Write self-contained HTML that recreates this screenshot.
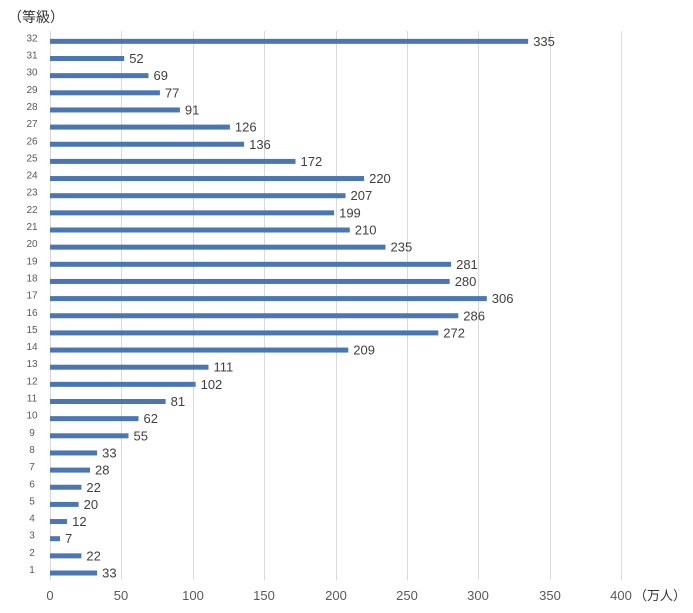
<!DOCTYPE html><html><head><meta charset="utf-8"><style>body{margin:0;background:#fff}svg{display:block}</style></head><body>
<svg width="693" height="613" xmlns="http://www.w3.org/2000/svg" font-family="Liberation Sans, Noto Sans CJK JP, sans-serif">
<defs><style>.c{font-size:10px;fill:#595959;text-anchor:middle}.v{font-size:13px;fill:#404040}.b{fill:#4a76b4}</style></defs>
<text x="8" y="22" font-size="14" fill="#333">（等級）</text>
<g stroke="#d9d9d9" stroke-width="1">
<line x1="50.5" y1="31" x2="50.5" y2="580"/><line x1="121.5" y1="31" x2="121.5" y2="580"/><line x1="193.5" y1="31" x2="193.5" y2="580"/><line x1="264.5" y1="31" x2="264.5" y2="580"/><line x1="336.5" y1="31" x2="336.5" y2="580"/><line x1="407.5" y1="31" x2="407.5" y2="580"/><line x1="478.5" y1="31" x2="478.5" y2="580"/><line x1="550.5" y1="31" x2="550.5" y2="580"/><line x1="621.5" y1="31" x2="621.5" y2="580"/>
</g>
<g font-size="13" fill="#595959" text-anchor="middle">
<text x="50" y="600">0</text><text x="121" y="600">50</text><text x="193" y="600">100</text><text x="264" y="600">150</text><text x="336" y="600">200</text><text x="407" y="600">250</text><text x="478" y="600">300</text><text x="550" y="600">350</text><text x="621" y="600">400</text>
</g>
<text x="634" y="600" font-size="13" fill="#333">（万人）</text>
<g transform="translate(0,573)"><text class="c" x="32" y="0">1</text><rect class="b" x="50" y="-2.5" width="47.1" height="5"/><text class="v" x="102.1" y="4.5">33</text></g>
<g transform="translate(0,555.85)"><text class="c" x="32" y="0">2</text><rect class="b" x="50" y="-2.5" width="31.4" height="5"/><text class="v" x="86.4" y="4.5">22</text></g>
<g transform="translate(0,538.7)"><text class="c" x="32" y="0">3</text><rect class="b" x="50" y="-2.5" width="10" height="5"/><text class="v" x="65" y="4.5">7</text></g>
<g transform="translate(0,521.55)"><text class="c" x="32" y="0">4</text><rect class="b" x="50" y="-2.5" width="17.1" height="5"/><text class="v" x="72.1" y="4.5">12</text></g>
<g transform="translate(0,504.4)"><text class="c" x="32" y="0">5</text><rect class="b" x="50" y="-2.5" width="28.6" height="5"/><text class="v" x="83.6" y="4.5">20</text></g>
<g transform="translate(0,487.25)"><text class="c" x="32" y="0">6</text><rect class="b" x="50" y="-2.5" width="31.4" height="5"/><text class="v" x="86.4" y="4.5">22</text></g>
<g transform="translate(0,470.1)"><text class="c" x="32" y="0">7</text><rect class="b" x="50" y="-2.5" width="40" height="5"/><text class="v" x="95" y="4.5">28</text></g>
<g transform="translate(0,452.95)"><text class="c" x="32" y="0">8</text><rect class="b" x="50" y="-2.5" width="47.1" height="5"/><text class="v" x="102.1" y="4.5">33</text></g>
<g transform="translate(0,435.8)"><text class="c" x="32" y="0">9</text><rect class="b" x="50" y="-2.5" width="78.5" height="5"/><text class="v" x="133.5" y="4.5">55</text></g>
<g transform="translate(0,418.65)"><text class="c" x="32" y="0">10</text><rect class="b" x="50" y="-2.5" width="88.5" height="5"/><text class="v" x="143.5" y="4.5">62</text></g>
<g transform="translate(0,401.5)"><text class="c" x="32" y="0">11</text><rect class="b" x="50" y="-2.5" width="115.6" height="5"/><text class="v" x="170.6" y="4.5">81</text></g>
<g transform="translate(0,384.35)"><text class="c" x="32" y="0">12</text><rect class="b" x="50" y="-2.5" width="145.6" height="5"/><text class="v" x="200.6" y="4.5">102</text></g>
<g transform="translate(0,367.2)"><text class="c" x="32" y="0">13</text><rect class="b" x="50" y="-2.5" width="158.5" height="5"/><text class="v" x="213.5" y="4.5">111</text></g>
<g transform="translate(0,350.05)"><text class="c" x="32" y="0">14</text><rect class="b" x="50" y="-2.5" width="298.3" height="5"/><text class="v" x="353.3" y="4.5">209</text></g>
<g transform="translate(0,332.9)"><text class="c" x="32" y="0">15</text><rect class="b" x="50" y="-2.5" width="388.3" height="5"/><text class="v" x="443.3" y="4.5">272</text></g>
<g transform="translate(0,315.75)"><text class="c" x="32" y="0">16</text><rect class="b" x="50" y="-2.5" width="408.3" height="5"/><text class="v" x="463.3" y="4.5">286</text></g>
<g transform="translate(0,298.6)"><text class="c" x="32" y="0">17</text><rect class="b" x="50" y="-2.5" width="436.8" height="5"/><text class="v" x="491.8" y="4.5">306</text></g>
<g transform="translate(0,281.45)"><text class="c" x="32" y="0">18</text><rect class="b" x="50" y="-2.5" width="399.7" height="5"/><text class="v" x="454.7" y="4.5">280</text></g>
<g transform="translate(0,264.3)"><text class="c" x="32" y="0">19</text><rect class="b" x="50" y="-2.5" width="401.1" height="5"/><text class="v" x="456.1" y="4.5">281</text></g>
<g transform="translate(0,247.15)"><text class="c" x="32" y="0">20</text><rect class="b" x="50" y="-2.5" width="335.5" height="5"/><text class="v" x="390.5" y="4.5">235</text></g>
<g transform="translate(0,230)"><text class="c" x="32" y="0">21</text><rect class="b" x="50" y="-2.5" width="299.8" height="5"/><text class="v" x="354.8" y="4.5">210</text></g>
<g transform="translate(0,212.85)"><text class="c" x="32" y="0">22</text><rect class="b" x="50" y="-2.5" width="284.1" height="5"/><text class="v" x="339.1" y="4.5">199</text></g>
<g transform="translate(0,195.7)"><text class="c" x="32" y="0">23</text><rect class="b" x="50" y="-2.5" width="295.5" height="5"/><text class="v" x="350.5" y="4.5">207</text></g>
<g transform="translate(0,178.55)"><text class="c" x="32" y="0">24</text><rect class="b" x="50" y="-2.5" width="314.1" height="5"/><text class="v" x="369.1" y="4.5">220</text></g>
<g transform="translate(0,161.4)"><text class="c" x="32" y="0">25</text><rect class="b" x="50" y="-2.5" width="245.5" height="5"/><text class="v" x="300.5" y="4.5">172</text></g>
<g transform="translate(0,144.25)"><text class="c" x="32" y="0">26</text><rect class="b" x="50" y="-2.5" width="194.1" height="5"/><text class="v" x="249.1" y="4.5">136</text></g>
<g transform="translate(0,127.1)"><text class="c" x="32" y="0">27</text><rect class="b" x="50" y="-2.5" width="179.9" height="5"/><text class="v" x="234.9" y="4.5">126</text></g>
<g transform="translate(0,109.95)"><text class="c" x="32" y="0">28</text><rect class="b" x="50" y="-2.5" width="129.9" height="5"/><text class="v" x="184.9" y="4.5">91</text></g>
<g transform="translate(0,92.8)"><text class="c" x="32" y="0">29</text><rect class="b" x="50" y="-2.5" width="109.9" height="5"/><text class="v" x="164.9" y="4.5">77</text></g>
<g transform="translate(0,75.65)"><text class="c" x="32" y="0">30</text><rect class="b" x="50" y="-2.5" width="98.5" height="5"/><text class="v" x="153.5" y="4.5">69</text></g>
<g transform="translate(0,58.5)"><text class="c" x="32" y="0">31</text><rect class="b" x="50" y="-2.5" width="74.2" height="5"/><text class="v" x="129.2" y="4.5">52</text></g>
<g transform="translate(0,41.35)"><text class="c" x="32" y="0">32</text><rect class="b" x="50" y="-2.5" width="478.2" height="5"/><text class="v" x="533.2" y="4.5">335</text></g>
</svg></body></html>
